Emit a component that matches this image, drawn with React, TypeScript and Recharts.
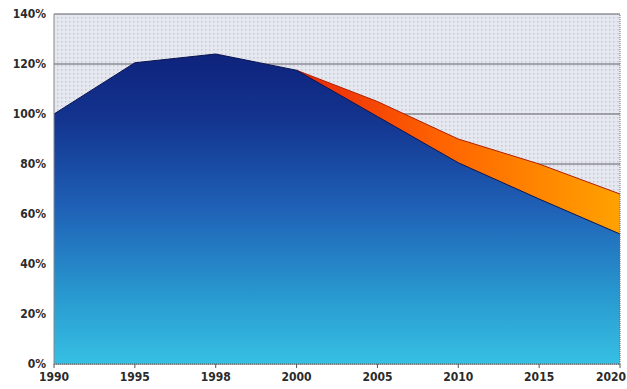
import { AreaChart, Area, XAxis, YAxis, CartesianGrid, ReferenceLine } from 'recharts'

const years = ['1990', '1995', '1998', '2000', '2005', '2010', '2015', '2020']
// blue area: actual / with measures
const actual = [100, 120.5, 124, 117.5, 99, 80.5, 66, 52]
// orange band: without measures (from 2000)
const projected = [null, null, null, 117.5, 105, 90, 80, 68]
const yTicks = [0, 20, 40, 60, 80, 100, 120, 140]

const data = years.map((y, i) => ({
  year: y,
  actual: actual[i],
  projected: projected[i],
}))

const font = '"Liberation Sans Narrow", "DejaVu Sans Condensed", "Liberation Sans", sans-serif'

const tickStyle = {
  fill: '#2b2b2b',
  fontSize: 12,
  fontWeight: 700,
  fontFamily: font,
}

// last label sits inside the right edge like in the original
function YearTick({ x, y, payload, index }: any) {
  const last = index === years.length - 1
  return (
    <text
      x={last ? x + 6 : x}
      y={y + 11}
      textAnchor={last ? 'end' : 'middle'}
      {...tickStyle}
    >
      {payload.value}
    </text>
  )
}

export default function App() {
  return (
    <div style={{ position: 'absolute', left: 0, top: 0, width: 627, height: 389, background: '#fff' }}>
      <AreaChart width={627} height={389} data={data} margin={{ top: 14, right: 7, left: 0, bottom: 0 }}>
        <defs>
          <pattern id="dots" width="4" height="4" patternUnits="userSpaceOnUse">
            <rect width="4" height="4" fill="#e6e8f0" />
            <rect x="1" y="1" width="1.5" height="1.5" fill="#c5c9d6" />
          </pattern>
          <linearGradient id="blueFill" x1="0" y1="14" x2="0" y2="364" gradientUnits="userSpaceOnUse">
            <stop offset="0" stopColor="#0b1870" />
            <stop offset="0.3" stopColor="#13348f" />
            <stop offset="0.55" stopColor="#1f60b6" />
            <stop offset="0.8" stopColor="#2898cf" />
            <stop offset="1" stopColor="#36c0e4" />
          </linearGradient>
          <linearGradient id="orangeFill" x1="297" y1="0" x2="620" y2="0" gradientUnits="userSpaceOnUse">
            <stop offset="0" stopColor="#e8260c" />
            <stop offset="0.45" stopColor="#ff6400" />
            <stop offset="1" stopColor="#ffa200" />
          </linearGradient>
        </defs>
        <CartesianGrid vertical={false} stroke="#5e5e66" strokeWidth={1} fill="url(#dots)" />
        <XAxis
          dataKey="year"
          tick={<YearTick />}
          tickLine={{ stroke: '#555' }}
          tickSize={4}
          axisLine={{ stroke: '#555', strokeDasharray: '1 1' }}
          height={25}
          interval={0}
        />
        <YAxis
          domain={[0, 140]}
          ticks={yTicks}
          tickFormatter={(v) => `${v}%`}
          tick={tickStyle}
          tickLine={false}
          axisLine={{ stroke: '#888' }}
          width={54}
          interval={0}
        />
        <ReferenceLine x="2020" stroke="#6a6a72" strokeDasharray="1 1" />
        <Area
          type="linear"
          dataKey="projected"
          stroke="#b02000"
          strokeWidth={1}
          fill="url(#orangeFill)"
          fillOpacity={1}
          isAnimationActive={false}
        />
        <Area
          type="linear"
          dataKey="actual"
          stroke="#0a1450"
          strokeWidth={1}
          fill="url(#blueFill)"
          fillOpacity={1}
          isAnimationActive={false}
        />
      </AreaChart>
    </div>
  )
}
